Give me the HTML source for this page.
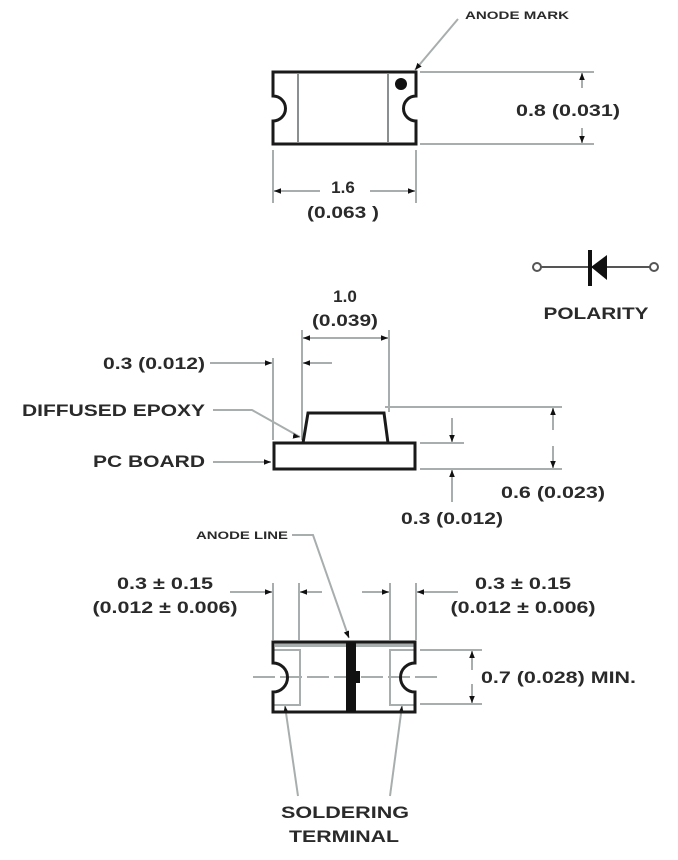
<!DOCTYPE html>
<html><head><style>
html,body{margin:0;padding:0;background:#fff;}
svg{display:block;}
text{font-family:"Liberation Sans",sans-serif;font-weight:bold;fill:#2a2a2a;}
</style></head><body>
<svg width="678" height="860" viewBox="0 0 678 860" xmlns="http://www.w3.org/2000/svg">
<defs>
<marker id="a" viewBox="0 0 10 10" refX="10" refY="5" markerWidth="7" markerHeight="7" orient="auto-start-reverse" markerUnits="userSpaceOnUse"><path d="M0,1 L10,5 L0,9 z" fill="#111"/></marker>
</defs>
<g fill="none" stroke="#a8aeae" stroke-width="2">
<!-- top view dims -->
<line x1="420" y1="72" x2="594" y2="72"/>
<line x1="420" y1="144" x2="594" y2="144"/>
<line x1="582" y1="88" x2="582" y2="73" marker-end="url(#a)"/>
<line x1="582" y1="128" x2="582" y2="143" marker-end="url(#a)"/>
<line x1="273" y1="150" x2="273" y2="203"/>
<line x1="416" y1="150" x2="416" y2="203"/>
<line x1="320" y1="191" x2="274" y2="191" marker-end="url(#a)"/>
<line x1="370" y1="191" x2="415" y2="191" marker-end="url(#a)"/>
<line x1="458" y1="19" x2="415" y2="70" marker-end="url(#a)"/>
<!-- side view dims -->
<line x1="302" y1="330" x2="302" y2="440"/>
<line x1="389" y1="330" x2="389" y2="412"/>
<line x1="303" y1="338" x2="388" y2="338"/>
<line x1="330" y1="338" x2="303" y2="338" marker-end="url(#a)"/>
<line x1="360" y1="338" x2="388" y2="338" marker-end="url(#a)"/>
<line x1="273" y1="358" x2="273" y2="440"/>
<line x1="210" y1="363" x2="272" y2="363" marker-end="url(#a)"/>
<line x1="332" y1="363" x2="303" y2="363" marker-end="url(#a)"/>
<polyline points="213,410 252,410 300,437"/>
<line x1="275" y1="433" x2="300" y2="437" stroke="none" marker-end="url(#a)"/>
<line x1="213" y1="462" x2="271" y2="462" marker-end="url(#a)"/>
<line x1="385" y1="407" x2="562" y2="407"/>
<line x1="420" y1="443" x2="464" y2="443"/>
<line x1="420" y1="469" x2="562" y2="469"/>
<line x1="553" y1="430" x2="553" y2="408" marker-end="url(#a)"/>
<line x1="553" y1="446" x2="553" y2="468" marker-end="url(#a)"/>
<line x1="452" y1="418" x2="452" y2="442" marker-end="url(#a)"/>
<line x1="452" y1="502" x2="452" y2="470" marker-end="url(#a)"/>
<!-- bottom view dims -->
<line x1="273" y1="583" x2="273" y2="640"/>
<line x1="299" y1="583" x2="299" y2="640"/>
<line x1="390" y1="583" x2="390" y2="640"/>
<line x1="416" y1="583" x2="416" y2="640"/>
<line x1="230" y1="592" x2="272" y2="592" marker-end="url(#a)"/>
<line x1="322" y1="592" x2="300" y2="592" marker-end="url(#a)"/>
<line x1="362" y1="592" x2="389" y2="592" marker-end="url(#a)"/>
<line x1="458" y1="592" x2="417" y2="592" marker-end="url(#a)"/>
<line x1="420" y1="650" x2="482" y2="650"/>
<line x1="420" y1="704" x2="482" y2="704"/>
<line x1="472" y1="670" x2="472" y2="651" marker-end="url(#a)"/>
<line x1="472" y1="684" x2="472" y2="703" marker-end="url(#a)"/>
<polyline points="292,535 313,535 349,638"/>
<line x1="345" y1="628" x2="349" y2="638" stroke="none" marker-end="url(#a)"/>
<line x1="298" y1="796" x2="285" y2="706" marker-end="url(#a)"/>
<line x1="390" y1="796" x2="402" y2="706" marker-end="url(#a)"/>
<line x1="253" y1="677" x2="442" y2="677" stroke-dasharray="22,5"/>
<line x1="275" y1="645" x2="414" y2="645" stroke-width="4"/>
<polyline points="273,650 300,650 300,705 273,705"/>
<polyline points="415,650 390,650 390,705 415,705"/>
</g>
<!-- top view part -->
<g fill="none" stroke="#1a1a1a" stroke-width="3">
<path d="M273,72 H416 V96 A12,12 0 0 0 416,121 V144 H273 V121 A12,12 0 0 0 273,96 Z"/>
</g>
<g stroke="#8a8f8f" stroke-width="2"><line x1="298" y1="74" x2="298" y2="142"/><line x1="388" y1="74" x2="388" y2="142"/></g>
<circle cx="401" cy="84" r="6" fill="#111"/>
<!-- side view -->
<rect x="274" y="443" width="141" height="26" fill="none" stroke="#1a1a1a" stroke-width="3"/>
<path d="M303,443 L308,413 H384 L388,443" fill="none" stroke="#1a1a1a" stroke-width="3"/>
<!-- polarity -->
<line x1="541" y1="267" x2="650" y2="267" stroke="#555" stroke-width="2"/>
<circle cx="537" cy="267" r="4" fill="#fff" stroke="#555" stroke-width="2"/>
<circle cx="654" cy="267" r="4" fill="#fff" stroke="#555" stroke-width="2"/>
<line x1="590" y1="250" x2="590" y2="286" stroke="#111" stroke-width="4"/>
<path d="M591,267 L607,255 V280 Z" fill="#111"/>
<!-- bottom view -->
<path d="M273,642 H415 V663 A12,12 0 0 0 415,692 V712 H273 V692 A12,12 0 0 0 273,663 Z" fill="none" stroke="#1a1a1a" stroke-width="3"/>
<rect x="346" y="642" width="10" height="70" fill="#111"/>
<path d="M356,671 h4 v12 h-4 z" fill="#111"/>
<!-- text -->
<text x="465" y="19" font-size="11" textLength="104" lengthAdjust="spacingAndGlyphs">ANODE MARK</text>
<text x="568" y="116" font-size="17" text-anchor="middle" textLength="104" lengthAdjust="spacingAndGlyphs">0.8 (0.031)</text>
<text x="343" y="193" font-size="17" text-anchor="middle">1.6</text>
<text x="343" y="218" font-size="17" text-anchor="middle" textLength="72" lengthAdjust="spacingAndGlyphs">(0.063 )</text>
<text x="345" y="302" font-size="17" text-anchor="middle">1.0</text>
<text x="345" y="326" font-size="17" text-anchor="middle" textLength="66" lengthAdjust="spacingAndGlyphs">(0.039)</text>
<text x="596" y="319" font-size="17" text-anchor="middle" textLength="105" lengthAdjust="spacingAndGlyphs">POLARITY</text>
<text x="103" y="369" font-size="17" textLength="102" lengthAdjust="spacingAndGlyphs">0.3 (0.012)</text>
<text x="22" y="416" font-size="17" textLength="183" lengthAdjust="spacingAndGlyphs">DIFFUSED EPOXY</text>
<text x="93" y="467" font-size="17" textLength="112" lengthAdjust="spacingAndGlyphs">PC BOARD</text>
<text x="553" y="498" font-size="17" text-anchor="middle" textLength="104" lengthAdjust="spacingAndGlyphs">0.6 (0.023)</text>
<text x="452" y="524" font-size="17" text-anchor="middle" textLength="102" lengthAdjust="spacingAndGlyphs">0.3 (0.012)</text>
<text x="196" y="539" font-size="11" textLength="92" lengthAdjust="spacingAndGlyphs">ANODE LINE</text>
<text x="165" y="589" font-size="17" text-anchor="middle" textLength="96" lengthAdjust="spacingAndGlyphs">0.3 ± 0.15</text>
<text x="165" y="613" font-size="17" text-anchor="middle" textLength="145" lengthAdjust="spacingAndGlyphs">(0.012 ± 0.006)</text>
<text x="523" y="589" font-size="17" text-anchor="middle" textLength="96" lengthAdjust="spacingAndGlyphs">0.3 ± 0.15</text>
<text x="523" y="613" font-size="17" text-anchor="middle" textLength="145" lengthAdjust="spacingAndGlyphs">(0.012 ± 0.006)</text>
<text x="481" y="683" font-size="17" textLength="155" lengthAdjust="spacingAndGlyphs">0.7 (0.028) MIN.</text>
<text x="345" y="818" font-size="17" text-anchor="middle" textLength="128" lengthAdjust="spacingAndGlyphs">SOLDERING</text>
<text x="344" y="842" font-size="17" text-anchor="middle" textLength="110" lengthAdjust="spacingAndGlyphs">TERMINAL</text>
</svg>
</body></html>
